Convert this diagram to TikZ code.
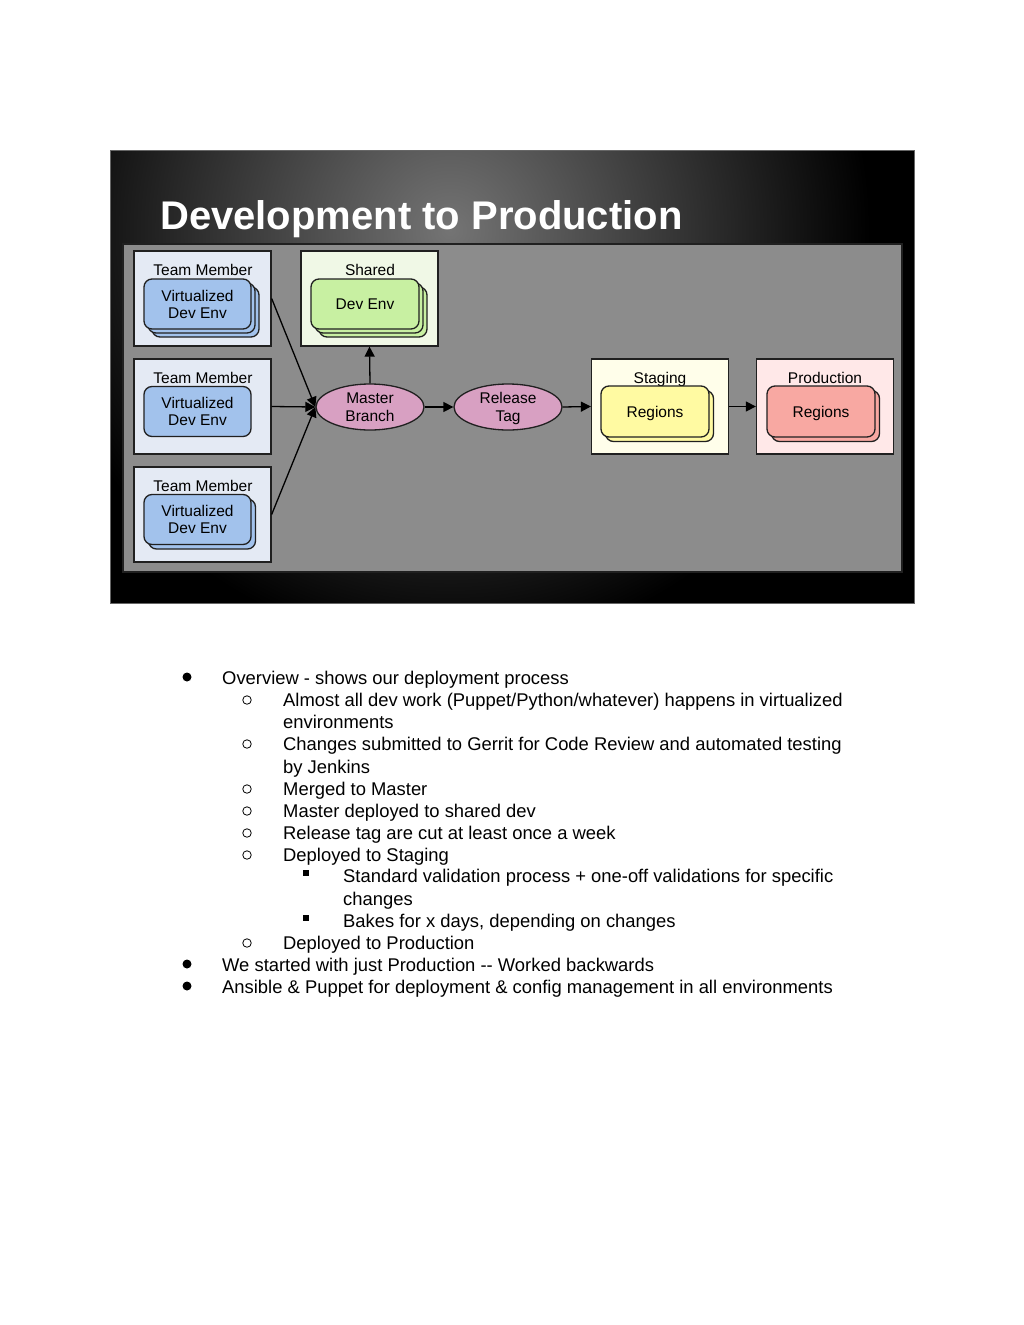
\documentclass[tikz,border=0pt]{standalone}
\usepackage{fontspec}
\setmainfont{Liberation Sans}
\usetikzlibrary{shapes.geometric,arrows.meta}
\definecolor{panelc}{HTML}{8C8C8C}
\definecolor{edgec}{HTML}{202020}
\definecolor{tmbox}{HTML}{E4EAF4}
\definecolor{vmc}{HTML}{A2C2EC}
\definecolor{shbox}{HTML}{F0F8E6}
\definecolor{devc}{HTML}{C8F0A2}
\definecolor{stbox}{HTML}{FFFEEA}
\definecolor{stc}{HTML}{FFFAA2}
\definecolor{prbox}{HTML}{FFE8E8}
\definecolor{prc}{HTML}{F8A8A2}
\definecolor{pinkc}{HTML}{D8A0C2}
\definecolor{glow}{HTML}{747474}
\begin{document}
\begin{tikzpicture}[x=1pt,y=-1pt,
  container/.style={draw=edgec, line width=1.3pt, minimum width=137pt, minimum height=95pt, inner sep=0pt},
  layer/.style={draw=edgec, line width=1.3pt, rounded corners=8pt, minimum width=107pt, minimum height=50pt, align=center, inner sep=0pt, font=\fontsize{15.5}{17}\selectfont},
  lbl/.style={inner sep=0pt, anchor=base, font=\fontsize{15.5}{17}\selectfont},
  ell/.style={ellipse, draw=edgec, line width=1.3pt, fill=pinkc, minimum width=108pt, minimum height=46pt, inner sep=0pt, align=center, text depth=0pt, font=\fontsize{15.5}{18}\selectfont},
  arr/.style={-{Triangle[length=10pt,width=10pt]}, line width=1.3pt, black},
  ln/.style={inner sep=0pt, anchor=base west, font=\fontsize{18.4}{22}\selectfont},
  dotb/.style={circle, fill=black, inner sep=0pt, minimum size=9pt},
  ringb/.style={circle, draw=black, line width=0.8pt, inner sep=0pt, minimum size=8.5pt},
  sqb/.style={rectangle, fill=black, inner sep=0pt, minimum size=6.5pt}
]
\useasboundingbox (0,0) rectangle (1024,1325);
\fill[white] (0,0) rectangle (1024,1325);

% slide background
\begin{scope}
  \clip (110,150) rectangle (914,603);
  \fill[black] (110,150) rectangle (914,603);
  \shade[inner color=glow, outer color=black] (450,230) ellipse (420 and 420);
\end{scope}
\draw[black!60, line width=0.6pt] (110,150) rectangle (914,603);

\node[inner sep=0pt, anchor=base west, text=white, font=\fontsize{40}{46}\selectfont\bfseries] (title) at (160,229) {Development to Production};

% panel
\node[draw=edgec, line width=1.5pt, fill=panelc, minimum width=779pt, minimum height=328pt, inner sep=0pt] (panel) at (512.5,408) {};

% containers
\node[container, fill=tmbox] (tm1) at (202.5,298.5) {};
\node[container, fill=tmbox] (tm2) at (202.5,406.5) {};
\node[container, fill=tmbox] (tm3) at (202.5,514.5) {};
\node[container, fill=shbox] (shared) at (369.5,298.5) {};
\node[container, fill=stbox] (staging) at (660,406.5) {};
\node[container, fill=prbox] (prod) at (825,406.5) {};

\node[lbl] (tm1l) at (203,275) {Team Member};
\node[lbl] (tm2l) at (203,383) {Team Member};
\node[lbl] (tm3l) at (203,491) {Team Member};
\node[lbl] (shl) at (370,275) {Shared};
\node[lbl] (stl) at (660,383) {Staging};
\node[lbl] (prl) at (825,383) {Production};

% stacked layers
\node[layer, fill=vmc] (vm1c) at (205.5,312) {};
\node[layer, fill=vmc] (vm1b) at (201.5,308) {};
\node[layer, fill=vmc] (vm1) at (197.5,304) {Virtualized\\Dev Env};

\node[layer, fill=vmc] (vm2) at (197.5,411.5) {Virtualized\\Dev Env};

\node[layer, fill=vmc] (vm3b) at (202,524) {};
\node[layer, fill=vmc] (vm3) at (197.5,519.5) {Virtualized\\Dev Env};

\node[layer, fill=devc, minimum width=108pt] (devc2) at (373,312) {};
\node[layer, fill=devc, minimum width=108pt] (devb) at (369,308) {};
\node[layer, fill=devc, minimum width=108pt, text height=11pt, text depth=0pt] (dev) at (365,304) {Dev Env};

\node[layer, fill=stc, minimum width=108pt, minimum height=51pt] (stregb) at (659.5,416) {};
\node[layer, fill=stc, minimum width=108pt, minimum height=51pt, text height=11pt, text depth=0pt] (streg) at (655,411.5) {Regions};

\node[layer, fill=prc, minimum width=108pt, minimum height=51pt] (prregb) at (825.5,416) {};
\node[layer, fill=prc, minimum width=108pt, minimum height=51pt, text height=11pt, text depth=0pt] (prreg) at (821,411.5) {Regions};

% ellipses
\node[ell] (master) at (370,407) {Master\\Branch};
\node[ell] (release) at (508,407) {Release\\Tag};

% arrows
\draw[arr] (tm1.east) -- (master.west);
\draw[arr] (tm2.east) -- (master.west);
\draw[arr] (tm3.east) -- (master.west);
\draw[arr] (master.north) -- (shared.south);
\draw[arr] (master.east) -- (release.west);
\draw[arr] (release.east) -- (staging.west);
\draw[arr] (staging.east) -- (prod.west);

% bullet list
\node[ln] (l1) at (222,684) {Overview - shows our deployment process};
\node[ln] (l2) at (283,706) {Almost all dev work (Puppet/Python/whatever) happens in virtualized};
\node[ln] (l3) at (283,728) {environments};
\node[ln] (l4) at (283,750) {Changes submitted to Gerrit for Code Review and automated testing};
\node[ln] (l5) at (283,773) {by Jenkins};
\node[ln] (l6) at (283,795) {Merged to Master};
\node[ln] (l7) at (283,817) {Master deployed to shared dev};
\node[ln] (l8) at (283,839) {Release tag are cut at least once a week};
\node[ln] (l9) at (283,861) {Deployed to Staging};
\node[ln] (l10) at (343,882) {Standard validation process + one-off validations for specific};
\node[ln] (l11) at (343,905) {changes};
\node[ln] (l12) at (343,927) {Bakes for x days, depending on changes};
\node[ln] (l13) at (283,949) {Deployed to Production};
\node[ln] (l14) at (222,971) {We started with just Production -{}- Worked backwards};
\node[ln] (l15) at (222,993) {Ansible \& Puppet for deployment \& config management in all environments};

\node[dotb] (b1) at (187,677) {};
\node[ringb] (b2) at (247,700) {};
\node[ringb] (b4) at (247,744) {};
\node[ringb] (b6) at (247,789) {};
\node[ringb] (b7) at (247,811) {};
\node[ringb] (b8) at (247,833) {};
\node[ringb] (b9) at (247,855) {};
\node[sqb] (b10) at (306,873) {};
\node[sqb] (b12) at (306,918) {};
\node[ringb] (b13) at (247,943) {};
\node[dotb] (b14) at (187,964) {};
\node[dotb] (b15) at (187,986) {};
\end{tikzpicture}
\end{document}
